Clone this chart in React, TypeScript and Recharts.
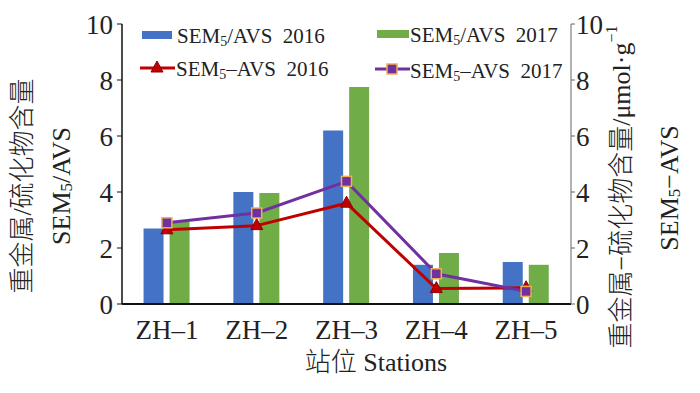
import { ComposedChart, Bar, Line, XAxis, YAxis, Legend } from 'recharts';

const stations = ['ZH–1', 'ZH–2', 'ZH–3', 'ZH–4', 'ZH–5'];
const ratio2016 = [2.7, 4.0, 6.2, 1.4, 1.5];
const ratio2017 = [2.93, 3.96, 7.75, 1.82, 1.4];
const diff2016 = [2.65, 2.8, 3.6, 0.55, 0.58];
const diff2017 = [2.9, 3.25, 4.38, 1.08, 0.45];
const yTicks = [0, 2, 4, 6, 8, 10];

const chartData = stations.map((s, i) => ({
  station: s,
  r16: ratio2016[i],
  r17: ratio2017[i],
  d16: diff2016[i],
  d17: diff2017[i],
}));

const FONT = "'Times New Roman', Times, 'Liberation Serif', 'DejaVu Serif', 'Noto Sans CJK SC', serif";
const BLUE = '#4472C4';
const GREEN = '#70AD47';
const RED = '#C00000';
const PURPLE = '#7030A0';

const TriangleDot = (props: any) => {
  const { cx, cy } = props;
  if (cx == null || cy == null) return null;
  return (
    <path
      d={`M${cx},${cy - 7} L${cx + 6},${cy + 4} L${cx - 6},${cy + 4} Z`}
      fill={RED}
      stroke="#8B0000"
      strokeWidth={1}
    />
  );
};

const SquareDot = (props: any) => {
  const { cx, cy } = props;
  if (cx == null || cy == null) return null;
  return <rect x={cx - 5} y={cy - 5} width={10} height={10} fill={PURPLE} stroke="#F0B050" strokeWidth={1.5} />;
};

const Sem = ({ rest }: { rest: string }) => (
  <span>
    SEM<sub style={{ fontSize: 14, verticalAlign: -3 }}>5</sub>
    {rest}
  </span>
);

const LegendBox = () => {
  const text = { position: 'absolute' as const, fontFamily: FONT, fontSize: 21, color: '#222', whiteSpace: 'pre' as const, lineHeight: '24px' };
  return (
    <div style={{ position: 'relative', width: 700, height: 90 }}>
      <svg width={700} height={90} style={{ position: 'absolute', left: 0, top: 0 }}>
        <rect x={142} y={31} width={30} height={8} fill={BLUE} />
        <rect x={377} y={30} width={32} height={8} fill={GREEN} />
        <line x1={140} y1={68} x2={175} y2={68} stroke={RED} strokeWidth={3} />
        <TriangleDot cx={157} cy={68} />
        <line x1={375} y1={69} x2={410} y2={69} stroke={PURPLE} strokeWidth={3} />
        <SquareDot cx={392} cy={69} />
      </svg>
      <div style={{ ...text, left: 177, top: 24 }}><Sem rest="/AVS  2016" /></div>
      <div style={{ ...text, left: 410, top: 23 }}><Sem rest="/AVS  2017" /></div>
      <div style={{ ...text, left: 176, top: 57 }}><Sem rest="–AVS  2016" /></div>
      <div style={{ ...text, left: 410, top: 59 }}><Sem rest="–AVS  2017" /></div>
    </div>
  );
};

const AxisTitles = () => (
  <g fontFamily={FONT} fill="#222">
    <text transform="translate(22,186) rotate(-90)" textAnchor="middle" dominantBaseline="central" fontSize={26} fontWeight={300}>
      重金属/硫化物含量
    </text>
    <text transform="translate(61,186) rotate(-90)" textAnchor="middle" dominantBaseline="central" fontSize={26}>
      SEM<tspan dy={5} fontSize={17}>5</tspan><tspan dy={-5}>/AVS</tspan>
    </text>
    <text transform="translate(621,187) rotate(-90)" textAnchor="middle" dominantBaseline="central" fontSize={26} fontWeight={300}>
      重金属−硫化物含量/μmol·g<tspan dy={-10} fontSize={16}>−1</tspan>
    </text>
    <text transform="translate(669,188) rotate(-90)" textAnchor="middle" dominantBaseline="central" fontSize={26}>
      SEM<tspan dy={5} fontSize={17}>5</tspan><tspan dy={-5}>−AVS</tspan>
    </text>
    <text x={376} y={362} textAnchor="middle" dominantBaseline="central" fontSize={26} fontWeight={300}>
      站位 Stations
    </text>
  </g>
);

export default function App() {
  return (
    <div style={{ position: 'absolute', left: 0, top: 0, background: '#fff' }}>
      <ComposedChart
        width={700}
        height={393}
        data={chartData}
        margin={{ top: 24, right: 0, bottom: 0, left: 0 }}
        barCategoryGap="24%"
        barGap={6}
      >
        <XAxis
          dataKey="station"
          height={89}
          tickLine={false}
          tickMargin={10}
          axisLine={{ stroke: '#111', strokeWidth: 2 }}
          tick={{ fontFamily: FONT, fontSize: 27, fill: '#222' }}
          label={<AxisTitles />}
        />
        <YAxis
          yAxisId="left"
          width={122}
          domain={[0, 10]}
          ticks={yTicks}
          tickSize={5}
          tickMargin={4}
          axisLine={{ stroke: '#111', strokeWidth: 1.5 }}
          tickLine={{ stroke: '#111' }}
          tick={{ fontFamily: FONT, fontSize: 27, fill: '#222' }}
        />
        <YAxis
          yAxisId="right"
          orientation="right"
          width={129}
          domain={[0, 10]}
          ticks={yTicks}
          tickSize={4}
          tickMargin={1}
          axisLine={{ stroke: '#666', strokeWidth: 1 }}
          tickLine={{ stroke: '#666' }}
          tick={{ fontFamily: FONT, fontSize: 27, fill: '#222' }}
        />
        <Legend
          layout="horizontal"
          verticalAlign="middle"
          align="center"
          content={<LegendBox />}
          wrapperStyle={{ position: 'absolute', left: 0, top: 0, width: 700, height: 90 }}
        />
        <Bar yAxisId="left" dataKey="r16" fill={BLUE} isAnimationActive={false} />
        <Bar yAxisId="left" dataKey="r17" fill={GREEN} isAnimationActive={false} />
        <Line yAxisId="right" type="linear" dataKey="d16" stroke={RED} strokeWidth={3} dot={<TriangleDot />} isAnimationActive={false} />
        <Line yAxisId="right" type="linear" dataKey="d17" stroke={PURPLE} strokeWidth={3} dot={<SquareDot />} isAnimationActive={false} />
      </ComposedChart>
    </div>
  );
}
